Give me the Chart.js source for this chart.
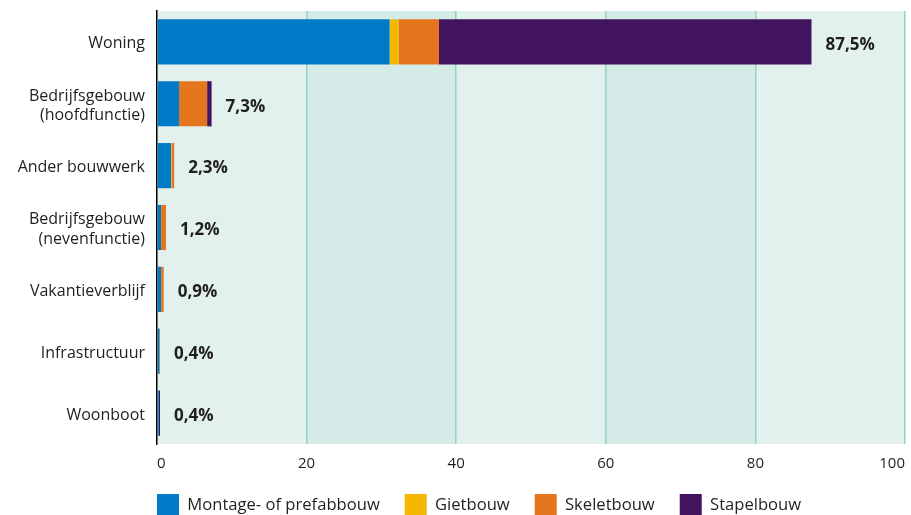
<!DOCTYPE html>
<html>
<head>
<meta charset="utf-8">
<script src="https://cdn.jsdelivr.net/npm/chart.js@4.4.1/dist/chart.umd.min.js"></script>
<style>
  html, body { margin: 0; padding: 0; background: #fff; }
  #wrap { width: 911px; height: 515px; }
</style>
</head>
<body>
<div id="wrap"><canvas id="chart" width="911" height="515"></canvas></div>
<script>
// categories (top to bottom)
const categories = [
    "Woning",
    ["Bedrijfsgebouw", "(hoofdfunctie)"],
    "Ander bouwwerk",
    ["Bedrijfsgebouw", "(nevenfunctie)"],
    "Vakantieverblijf",
    "Infrastructuur",
    "Woonboot"
];

// share per building method (%)
const montage = [31.1, 2.95, 1.87, 0.55, 0.55, 0.30, 0.25];
const giet    = [1.2, 0, 0.07, 0, 0, 0.04, 0];
const skelet  = [5.4, 3.75, 0.36, 0.65, 0.35, 0, 0];
const stapel  = [49.8, 0.6, 0, 0, 0, 0.06, 0.15];

const totalLabels = ["87,5%", "7,3%", "2,3%", "1,2%", "0,9%", "0,4%", "0,4%"];
const seriesNames = ["Montage- of prefabbouw", "Gietbouw", "Skeletbouw", "Stapelbouw"];
const xTicks = [0, 20, 40, 60, 80, 100];
const darkBands = [[20, 40], [60, 80]];

const FONT = '"Open Sans", "Noto Sans", sans-serif';
const TEXT = "#1f1f1f";
const LEGEND_TOP = 494;

// shaded plot background with alternating bands
const bandPlugin = {
    id: "bands",
    beforeDraw(chart) {
        const { ctx, chartArea: a, scales: { x } } = chart;
        ctx.save();
        ctx.fillStyle = "#e3f1ee";
        ctx.fillRect(a.left, a.top, a.width, a.height);
        ctx.fillStyle = "#d5ebe7";
        darkBands.forEach(([from, to]) => {
            const x0 = x.getPixelForValue(from);
            const x1 = x.getPixelForValue(to);
            ctx.fillRect(x0, a.top, x1 - x0, a.height);
        });
        ctx.restore();
    }
};

// bold total at the end of each stacked bar
const totalPlugin = {
    id: "totals",
    afterDatasetsDraw(chart) {
        const ctx = chart.ctx;
        ctx.save();
        ctx.font = "bold 17px " + FONT;
        ctx.fillStyle = TEXT;
        ctx.textAlign = "left";
        ctx.textBaseline = "middle";
        totalLabels.forEach((txt, i) => {
            let end = chart.chartArea.left;
            let y = 0;
            chart.data.datasets.forEach((ds, d) => {
                const bar = chart.getDatasetMeta(d).data[i];
                end = Math.max(end, bar.x);
                y = bar.y;
            });
            ctx.fillText(txt, end + 14, y + 3);
        });
        ctx.restore();
    }
};

// put the legend under the plot, left aligned with it
const legendPlacer = {
    id: "legendPlacer",
    afterLayout(chart) {
        const lg = chart.legend;
        const pad = chart.options.plugins.legend.labels.padding;
        lg.left = chart.chartArea.left - pad;
        lg.right = chart.width;
        lg.top = LEGEND_TOP - pad;
        lg.bottom = chart.height;
    }
};

const colors = ["#007bc7", "#f4b800", "#e6761d", "#42145f"];
const series = [montage, giet, skelet, stapel];

function draw() {
    new Chart(document.getElementById("chart"), {
        type: "bar",
        data: {
            labels: categories,
            datasets: series.map((values, i) => ({
                label: seriesNames[i],
                data: values,
                backgroundColor: colors[i],
                borderWidth: 0,
                categoryPercentage: 1.0,
                barPercentage: 0.73
            }))
        },
        options: {
            indexAxis: "y",
            responsive: false,
            animation: false,
            layout: { padding: { top: 11, right: 6, bottom: 0, left: 0 } },
            scales: {
                x: {
                    type: "linear",
                    stacked: true,
                    min: 0,
                    max: 100,
                    afterBuildTicks: (scale) => {
                        scale.ticks = xTicks.map(v => ({ value: v }));
                    },
                    afterFit: (scale) => {
                        scale.height = 51;
                        scale.paddingLeft = 0;
                        scale.paddingRight = 0;
                    },
                    ticks: {
                        align: "inner",
                        padding: 11,
                        color: TEXT,
                        font: { family: FONT, size: 15 }
                    },
                    grid: {
                        color: (c) => c.tick && c.tick.value === 0 ? "rgba(0,0,0,0)" : "#94d2c4",
                        lineWidth: 1.5,
                        drawTicks: false
                    },
                    border: { display: false }
                },
                y: {
                    stacked: true,
                    afterFit: (scale) => {
                        scale.width = 157;
                        scale.paddingTop = 0;
                        scale.paddingBottom = 0;
                    },
                    ticks: {
                        padding: 12,
                        labelOffset: 2,
                        color: TEXT,
                        font: { family: FONT, size: 16 }
                    },
                    grid: { display: false, drawTicks: false },
                    border: { display: true, color: "#000", width: 1.5 }
                }
            },
            plugins: {
                legend: {
                    position: "bottom",
                    align: "start",
                    fullSize: false,
                    maxHeight: 20,
                    labels: {
                        boxWidth: 22,
                        boxHeight: 22,
                        padding: 25,
                        color: TEXT,
                        font: { family: FONT, size: 16.6 }
                    }
                },
                tooltip: { enabled: false }
            }
        },
        plugins: [bandPlugin, totalPlugin, legendPlacer]
    });
}

Promise.all([
    document.fonts.load('16px "Open Sans"'),
    document.fonts.load('bold 17px "Open Sans"')
]).then(draw, draw);
</script>
</body>
</html>
